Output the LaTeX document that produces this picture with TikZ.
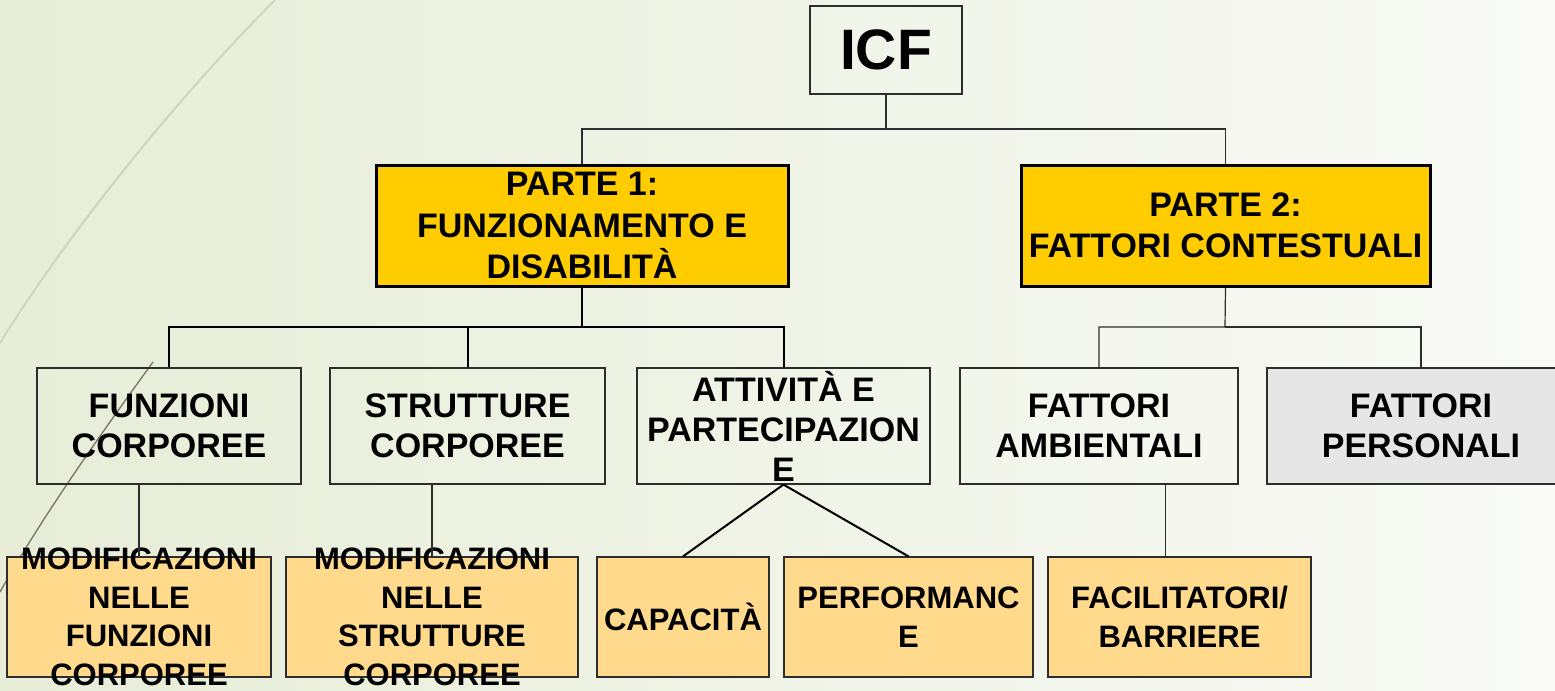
\documentclass[tikz,border=0pt]{standalone}
\usepackage{fontspec}
\setmainfont{Liberation Sans}
\usepackage{xcolor}
\usetikzlibrary{positioning}
\definecolor{bgleft}{RGB}{231,237,215}
\definecolor{bgright}{RGB}{249,250,246}
\definecolor{partyellow}{RGB}{255,204,0}
\definecolor{leaforange}{RGB}{255,217,140}
\definecolor{persgray}{RGB}{230,230,230}
\definecolor{arcpale}{RGB}{208,212,192}
\definecolor{arcdark}{RGB}{128,122,102}
\definecolor{boxline}{RGB}{45,45,45}
\tikzset{
  rootnode/.style = {rectangle, draw=boxline, line width=0.6pt, minimum width=76pt,
                     minimum height=44pt, inner sep=0pt, font=\fontsize{28.5}{30}\selectfont\bfseries},
  partnode/.style = {rectangle, draw=black, line width=1.5pt, fill=partyellow, minimum height=60.5pt,
                     inner sep=0pt, align=center, font=\fontsize{17}{20.75}\selectfont\bfseries},
  compnode/.style = {rectangle, draw=boxline, line width=0.6pt, minimum height=58pt,
                     inner sep=0pt, align=center, font=\fontsize{17}{20}\selectfont\bfseries},
  leafnode/.style = {rectangle, draw=boxline, line width=0.6pt, fill=leaforange, minimum height=60pt,
                     inner sep=0pt, align=center, font=\fontsize{15.5}{19.25}\selectfont\bfseries},
  leaftxt/.style  = {align=center, inner sep=0pt, font=\fontsize{15.5}{19.25}\selectfont\bfseries},
  treeedge/.style = {line width=0.6pt, boxline},
  busedge/.style  = {line width=1pt, black}
}

\begin{document}
\begin{tikzpicture}[x=0.5pt, y=-0.5pt]
  % Background
  \clip (0,0) rectangle (1555,691);
  \shade[left color=bgleft, right color=bgright] (0,0) rectangle (1555,691);
  \draw[arcpale, line width=1pt] (275,0) .. controls (180,95) and (70,230) .. (0,343);
  \draw[arcdark, line width=0.7pt] (153,362) .. controls (100,435) and (40,520) .. (0,592);
  % Level 0
  \node[rootnode] (icf) at (886,50) {ICF};
  % Level 1
  \node[partnode, minimum width=206pt]   (p1) at (582,225.5)    {PARTE 1:\\FUNZIONAMENTO E\\DISABILITÀ};
  \node[partnode, minimum width=204.5pt] (p2) at (1225.5,225.5) {PARTE 2:\\FATTORI CONTESTUALI};
  % Level 2
  \node[compnode, minimum width=132pt]   (fc) at (169,426)    {FUNZIONI\\CORPOREE};
  \node[compnode, minimum width=137.5pt] (sc) at (467.5,426)  {STRUTTURE\\CORPOREE};
  \node[compnode, minimum width=146.5pt] (ap) at (783.5,426)  {ATTIVITÀ E\\PARTECIPAZION\\E};
  \node[compnode, minimum width=139pt]   (fa) at (1099,426)   {FATTORI\\AMBIENTALI};
  \node[compnode, minimum width=154pt, fill=persgray] (fp) at (1421,426) {FATTORI\\PERSONALI};
  % Level 3 (leaves)
  \node[leafnode, minimum width=132pt,
        label={[leaftxt]center:{MODIFICAZIONI\\NELLE\\FUNZIONI\\CORPOREE}}]  (m1) at (139,617) {};
  \node[leafnode, minimum width=146pt,
        label={[leaftxt]center:{MODIFICAZIONI\\NELLE\\STRUTTURE\\CORPOREE}}] (m2) at (432,617) {};
  \node[leafnode, minimum width=86pt]    (cap)  at (683,617)    {CAPACITÀ};
  \node[leafnode, minimum width=124.5pt] (perf) at (908.5,617)  {PERFORMANC\\E};
  \node[leafnode, minimum width=131.5pt] (fb)   at (1179.5,617) {FACILITATORI/\\BARRIERE};
  % Edges
  \coordinate (busA) at (886,129);
  \coordinate (busB) at (582,327);
  \coordinate (busC) at (1225,327);
  \draw[treeedge] (icf.south) -- (busA) -| (p1.north);
  \draw[treeedge] (busA) -| (p2.north);
  \draw[busedge] (p1.south) -- (busB) -| (fc.north);
  \draw[busedge] (busB) -| (sc.north);
  \draw[busedge] (busB) -| (ap.north);
  \draw[treeedge] (p2.south) -- (busC) -| (fa.north);
  \draw[treeedge] (busC) -| (fp.north);
  \draw[treeedge] (m1.north) -- (m1.north |- fc.south);
  \draw[treeedge] (m2.north) -- (m2.north |- sc.south);
  \draw[busedge] (ap.south) -- (cap.north);
  \draw[busedge] (ap.south) -- (perf.north);
  \draw[treeedge] ([xshift=-7pt]fb.north) -- ([xshift=-7pt]fb.north |- fa.south);
\end{tikzpicture}
\end{document}
